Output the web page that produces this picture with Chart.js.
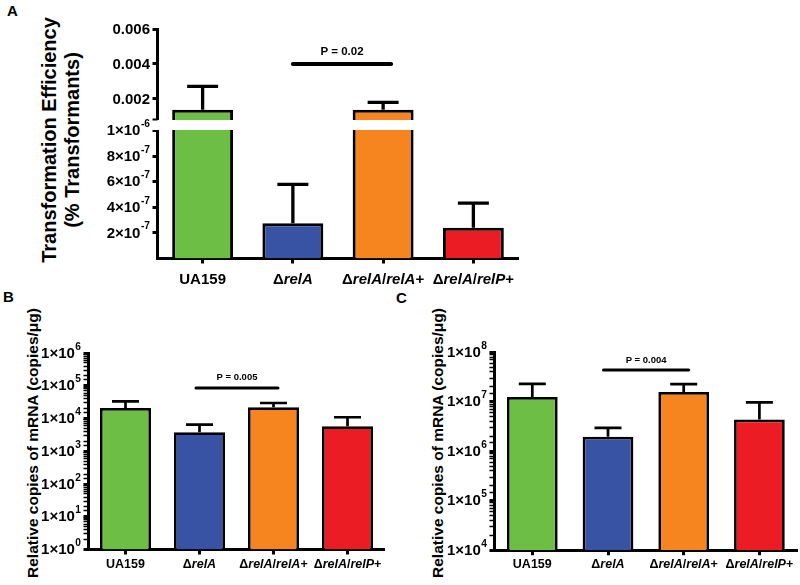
<!DOCTYPE html>
<html>
<head>
<meta charset="utf-8">
<script src="https://cdn.jsdelivr.net/npm/chart.js@4.4.1/dist/chart.umd.min.js"></script>
<style>
body { margin: 0; background: #fff; font-family: "Liberation Sans", Arial, sans-serif; }
#fig { position: relative; width: 800px; height: 585px; overflow: hidden; background: #fff; }
canvas { position: absolute; }
.letter { position: absolute; font-weight: bold; font-size: 15px; line-height: 16px; }
.ytitle { position: absolute; font-weight: bold; white-space: nowrap; text-align: center;
          transform: translate(-50%, -50%) rotate(-90deg); }
</style>
</head>
<body>
<div id="fig">
  <div class="letter" style="left:7px;top:3px">A</div>
  <div class="letter" style="left:3px;top:289px">B</div>
  <div class="letter" style="left:396px;top:290px">C</div>
  <div class="ytitle" style="left:61px;top:140px;font-size:20px;line-height:23px">Transformation Efficiency<br>(% Transformants)</div>
  <div class="ytitle" style="left:33px;top:443px;font-size:15.5px">Relative copies of mRNA (copies/μg)</div>
  <div class="ytitle" style="left:438px;top:443px;font-size:15.5px">Relative copies of mRNA (copies/μg)</div>
  <canvas id="chartA" width="530" height="295" style="left:0;top:0;width:530px;height:295px"></canvas>
  <canvas id="chartB" width="400" height="285" style="left:0;top:300px;width:400px;height:285px"></canvas>
  <canvas id="chartC" width="400" height="285" style="left:400px;top:300px;width:400px;height:285px"></canvas>
</div>
<script>
// Strains and bar colours (same for all three panels)
const categories = ['UA159', 'ΔrelA', 'ΔrelA/relA+', 'ΔrelA/relP+'];
const barColors = ['#6dbe45', '#3953a4', '#f6851f', '#ec1c24'];

// A - transformation efficiency, broken y axis
const aValues = [1.39e-3, 2.75e-7, 1.39e-3, 2.41e-7];
const aErrors = [1.33e-3, 3.05e-7, 0.42e-3, 1.92e-7];
const aHighRange = [0.000514, 0.006];
const aLowRange = [0, 1.0446e-6];
const aHighTicks = [0.002, 0.004, 0.006];
const aHighLabels = ['0.002', '0.004', '0.006'];
const aLowTicks = [2e-7, 4e-7, 6e-7, 8e-7, 1e-6];
const aLowLabels = ['2×10⁻⁷', '4×10⁻⁷', '6×10⁻⁷', '8×10⁻⁷', '1×10⁻⁶'];
const aP = { text: 'P = 0.02', level: 0.004, from: 1, to: 2 };

// B - relative copies of mRNA
const bValues = [2.1e4, 3.8e3, 2.19e4, 5.8e3];
const bErrors = [1.23e4, 2.7e3, 7.8e3, 5.1e3];
const bTicks = [1, 10, 100, 1e3, 1e4, 1e5, 1e6];
const bTickLabels = ['1×10⁰', '1×10¹', '1×10²', '1×10³', '1×10⁴', '1×10⁵', '1×10⁶'];
const bP = { text: 'P = 0.005', level: 8.5e4, from: 1, to: 2 };

// C - relative copies of mRNA
const cValues = [1.25e7, 1.96e6, 1.57e7, 4.37e6];
const cErrors = [1.05e7, 1.02e6, 7.0e6, 5.33e6];
const cTicks = [1e4, 1e5, 1e6, 1e7, 1e8];
const cTickLabels = ['1×10⁴', '1×10⁵', '1×10⁶', '1×10⁷', '1×10⁸'];
const cP = { text: 'P = 0.004', level: 4.4e7, from: 1, to: 2 };

const FONT = '"Liberation Sans", Arial, Helvetica, sans-serif';
Chart.defaults.font.family = FONT;
Chart.defaults.color = '#000';

const SUP = '⁰¹²³⁴⁵⁶⁷⁸⁹⁻';
const SUP_PLAIN = '0123456789-';

// tick label with a real raised exponent, right aligned at xr, centred on y
function drawTickLabel(ctx, text, xr, y, size) {
  const m = text.match(new RegExp('^(.*?)([' + SUP + ']*)$'));
  const base = m[1];
  const sup = m[2].split('').map(c => SUP_PLAIN[SUP.indexOf(c)]).join('');
  const supSize = size * 0.68;
  ctx.font = 'bold ' + size + 'px ' + FONT;
  const wb = ctx.measureText(base).width;
  ctx.font = 'bold ' + supSize + 'px ' + FONT;
  const ws = sup ? ctx.measureText(sup).width + 0.5 : 0;
  const x0 = xr - wb - ws;
  ctx.textAlign = 'left';
  ctx.textBaseline = 'middle';
  ctx.font = 'bold ' + size + 'px ' + FONT;
  ctx.fillText(base, x0, y + 0.5);
  if (sup) {
    ctx.font = 'bold ' + supSize + 'px ' + FONT;
    ctx.fillText(sup, x0 + wb + 0.5, y - size * 0.42);
  }
}

// error bars, P value bracket, axis break, tick and category labels
function figurePlugin(cfg) {
  return {
    id: 'figure',
    afterDraw(chart) {
      const ctx = chart.ctx;
      const xs = chart.scales.x;
      const area = chart.chartArea;
      ctx.save();

      if (cfg.breakAt) {
        const yb = chart.scales[cfg.breakAt].bottom;
        ctx.fillStyle = '#fff';
        ctx.fillRect(area.left - 6, yb - 5, area.right - area.left + 6, 10);
        ctx.fillStyle = '#000';
        ctx.fillRect(area.left - 5, yb - 6.5, 5, 2);
      }

      ctx.fillStyle = '#000';
      cfg.yLabels.forEach(set => {
        const s = chart.scales[set.axis];
        set.ticks.forEach((t, k) => {
          drawTickLabel(ctx, set.labels[k], s.right - 7.5, s.getPixelForValue(t), cfg.tickSize);
        });
      });

      ctx.strokeStyle = '#000';
      ctx.lineWidth = cfg.errWidth;
      cfg.values.forEach((v, i) => {
        const ys = cfg.scaleFor(chart, v);
        const px = xs.getPixelForValue(i);
        const top = ys.getPixelForValue(v);
        const end = ys.getPixelForValue(v + cfg.errors[i]);
        ctx.beginPath();
        ctx.moveTo(px, top);
        ctx.lineTo(px, end);
        ctx.moveTo(px - cfg.cap / 2, end);
        ctx.lineTo(px + cfg.cap / 2, end);
        ctx.stroke();
      });

      const p = cfg.p;
      const py = cfg.scaleFor(chart, p.level).getPixelForValue(p.level);
      const x1 = xs.getPixelForValue(p.from) - cfg.pExt[0];
      const x2 = xs.getPixelForValue(p.to) + cfg.pExt[1];
      ctx.lineWidth = cfg.pWidth;
      ctx.lineCap = 'round';
      ctx.beginPath();
      ctx.moveTo(x1, py);
      ctx.lineTo(x2, py);
      ctx.stroke();
      ctx.font = 'bold ' + cfg.pSize + 'px ' + FONT;
      ctx.textAlign = 'center';
      ctx.textBaseline = 'middle';
      ctx.fillText(p.text, (x1 + x2) / 2, py - cfg.pGap);

      ctx.textAlign = 'left';
      categories.forEach((label, i) => {
        const parts = label.split(/(rel[AP])/).filter(s => s);
        const fonts = parts.map(s => (/^rel[AP]$/.test(s) ? 'italic ' : '') + 'bold ' + cfg.labelSize + 'px ' + FONT);
        let w = 0;
        parts.forEach((s, k) => { ctx.font = fonts[k]; w += ctx.measureText(s).width; });
        let x = xs.getPixelForValue(i) - w / 2;
        parts.forEach((s, k) => {
          ctx.font = fonts[k];
          ctx.fillText(s, x, cfg.labelY);
          x += ctx.measureText(s).width;
        });
      });
      ctx.restore();
    }
  };
}

function axisLook(tickWidth) {
  return {
    grid: { display: true, drawOnChartArea: false, drawTicks: true, tickLength: 5,
            tickWidth: tickWidth, tickColor: '#000', offset: false },
    border: { display: true, color: '#000', width: 3 }
  };
}

function xAxis(height) {
  return Object.assign({
    type: 'category',
    ticks: { display: false },
    afterFit: s => { s.height = height; }
  }, axisLook(3));
}

function bars(data, axisId, borderWidth, barPct) {
  return {
    data: data, yAxisID: axisId,
    backgroundColor: barColors, borderColor: '#000', borderWidth: borderWidth,
    borderSkipped: 'start', grouped: false,
    barPercentage: barPct, categoryPercentage: 1
  };
}

const isPow10 = v => Math.abs(Math.log10(v) - Math.round(Math.log10(v))) < 1e-6;

function linAxis(range, ticks, weight, width) {
  return Object.assign({
    type: 'linear', position: 'left', stack: 'trans', stackWeight: weight,
    min: range[0], max: range[1],
    afterBuildTicks: s => { s.ticks = ticks.map(value => ({ value })); },
    afterFit: s => { s.width = width; },
    ticks: { display: false }
  }, axisLook(3));
}

function logAxis(range, width) {
  return Object.assign({
    type: 'logarithmic', position: 'left', min: range[0], max: range[1],
    afterFit: s => { s.width = width; },
    ticks: { display: false, autoSkip: false }
  }, axisLook(c => (isPow10(c.tick.value) ? 3 : 1.5)));
}

const common = {
  responsive: false,
  animation: false,
  plugins: { legend: { display: false }, tooltip: { enabled: false } }
};

// Panel A
new Chart(document.getElementById('chartA'), {
  type: 'bar',
  data: {
    labels: categories,
    datasets: [
      bars(aValues.map(v => Math.min(v, aLowRange[1])), 'yLow', 3, 0.675),
      bars(aValues.map(v => (v >= aHighRange[0] ? v : null)), 'yHigh', 3, 0.675)
    ]
  },
  options: Object.assign({}, common, {
    layout: { padding: { top: 29, right: 11.5, left: 0, bottom: 0 } },
    scales: {
      x: xAxis(36.5),
      yLow: linAxis(aLowRange, aLowTicks, 133.5, 157.5),
      yHigh: linAxis(aHighRange, aHighTicks, 96, 157.5)
    }
  }),
  plugins: [figurePlugin({
    values: aValues, errors: aErrors, p: aP,
    scaleFor: (chart, v) => (v >= aHighRange[0] ? chart.scales.yHigh : chart.scales.yLow),
    yLabels: [
      { axis: 'yHigh', ticks: aHighTicks, labels: aHighLabels },
      { axis: 'yLow', ticks: aLowTicks, labels: aLowLabels }
    ],
    tickSize: 15,
    breakAt: 'yHigh', cap: 31, errWidth: 3.3,
    pWidth: 4, pExt: [0, 8], pSize: 11.5, pGap: 12.6,
    labelSize: 15, labelY: 279.5
  })]
});

// Panel B
new Chart(document.getElementById('chartB'), {
  type: 'bar',
  data: { labels: categories, datasets: [bars(bValues, 'y', 2.7, 0.69)] },
  options: Object.assign({}, common, {
    layout: { padding: { top: 53, right: 15.5, left: 0, bottom: 0 } },
    scales: {
      x: xAxis(35.5),
      y: logAxis([1, 1e6], 88.5)
    }
  }),
  plugins: [figurePlugin({
    values: bValues, errors: bErrors, p: bP,
    scaleFor: chart => chart.scales.y,
    yLabels: [{ axis: 'y', ticks: bTicks, labels: bTickLabels }],
    tickSize: 15,
    cap: 27, errWidth: 2.7,
    pWidth: 3, pExt: [3.5, 4.5], pSize: 9.5, pGap: 10.6,
    labelSize: 12.5, labelY: 264.5
  })]
});

// Panel C
new Chart(document.getElementById('chartC'), {
  type: 'bar',
  data: { labels: categories, datasets: [bars(cValues, 'y', 2.7, 0.67)] },
  options: Object.assign({}, common, {
    layout: { padding: { top: 52.3, right: 2.75, left: 0, bottom: 0 } },
    scales: {
      x: xAxis(34.8),
      y: logAxis([1e4, 1e8], 94.45)
    }
  }),
  plugins: [figurePlugin({
    values: cValues, errors: cErrors, p: cP,
    scaleFor: chart => chart.scales.y,
    yLabels: [{ axis: 'y', ticks: cTicks, labels: cTickLabels }],
    tickSize: 15,
    cap: 27, errWidth: 2.7,
    pWidth: 3, pExt: [4.5, 5], pSize: 9.5, pGap: 9.3,
    labelSize: 12.5, labelY: 265
  })]
});
</script>
</body>
</html>
